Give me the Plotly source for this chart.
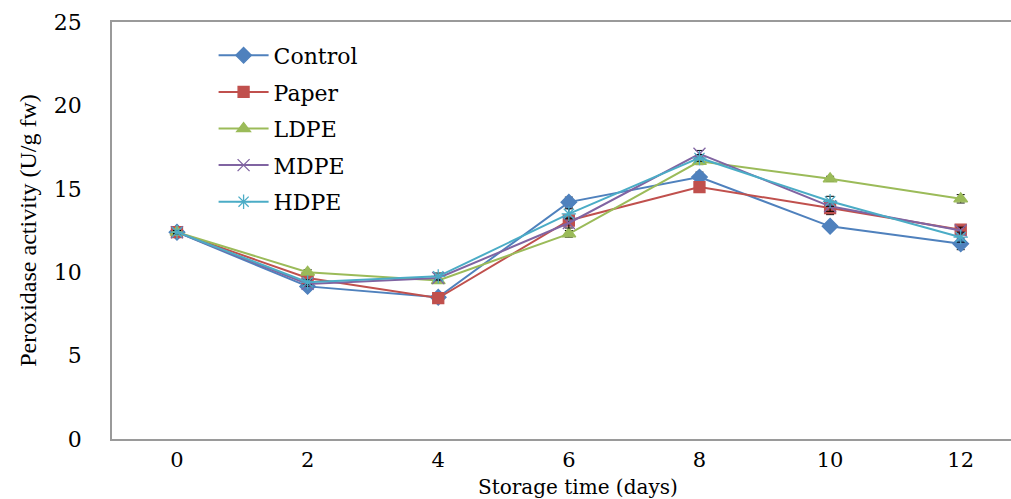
import plotly.graph_objects as go

days = [0, 2, 4, 6, 8, 10, 12]
series_names = ["Control", "Paper", "LDPE", "MDPE", "HDPE"]
control = [12.4, 9.15, 8.5, 14.2, 15.7, 12.75, 11.7]
paper = [12.4, 9.65, 8.45, 13.1, 15.1, 13.85, 12.55]
ldpe = [12.4, 10.0, 9.5, 12.3, 16.65, 15.6, 14.4]
mdpe = [12.4, 9.3, 9.65, 12.95, 17.1, 13.95, 12.5]
hdpe = [12.4, 9.4, 9.75, 13.5, 16.85, 14.25, 12.1]
control_err = [0.1, 0.15, 0.15, 0.3, 0.3, 0.2, 0.35]
paper_err = [0.1, 0.2, 0.1, 0.3, 0.2, 0.4, 0.2]
ldpe_err = [0.1, 0.15, 0.1, 0.2, 0.2, 0.15, 0.25]
mdpe_err = [0.1, 0.15, 0.15, 0.3, 0.2, 0.3, 0.2]
hdpe_err = [0.1, 0.15, 0.2, 0.3, 0.2, 0.3, 0.3]
x_ticks = [0, 2, 4, 6, 8, 10, 12]
y_ticks = [0, 5, 10, 15, 20, 25]

values = [control, paper, ldpe, mdpe, hdpe]
errors = [control_err, paper_err, ldpe_err, mdpe_err, hdpe_err]
colors = ["#4F81BD", "#C0504D", "#9BBB59", "#8064A2", "#4BACC6"]
symbols = ["diamond", "square", "triangle-up", "x-thin-open", "asterisk-open"]
sizes = [12, 11, 12, 12, 12]

WIDE = "DejaVu Serif, Liberation Serif, serif"
TIMES = "Liberation Serif, DejaVu Serif, serif"
fig = go.Figure()
for name, v, e, c, s, sz in zip(series_names, values, errors, colors, symbols, sizes):
    fig.add_trace(go.Scatter(
        x=days, y=v, name=name, mode="lines+markers", legendgroup=name,
        line=dict(color=c, width=2),
        marker=dict(symbol=s, size=sz, color=c, line=dict(color=c, width=1.3)),
        error_y=dict(type="data", array=e, visible=True, color="black", thickness=1, width=4),
    ))

fig.add_annotation(text="Storage time (days)", xref="paper", yref="paper",
                   x=0.518, y=0, yshift=-48, xanchor="center", yanchor="middle",
                   showarrow=False, font=dict(family=WIDE, size=20, color="black"))

fig.update_layout(
    width=1011, height=499,
    margin=dict(l=112, r=0, t=22, b=60),
    paper_bgcolor="white", plot_bgcolor="white",
    font=dict(family=WIDE, size=22, color="black"),
    showlegend=True,
    legend=dict(x=0.113, y=0.97, xanchor="left", yanchor="top",
                bgcolor="rgba(0,0,0,0)", font=dict(family=WIDE, size=22),
                tracegroupgap=5, itemwidth=50),
    xaxis=dict(range=[-0.995, 12.77], tickmode="array", tickvals=x_ticks,
               ticktext=[str(t) for t in x_ticks],
               showgrid=False, zeroline=False, showline=True, linecolor="#9a9a9a",
               linewidth=1.5, mirror=True, ticks="", ticklabelstandoff=1,
               tickfont=dict(family=WIDE, size=21)),
    yaxis=dict(range=[0, 25], tickmode="array", tickvals=y_ticks,
               showgrid=False, zeroline=False, showline=True, linecolor="#9a9a9a",
               linewidth=1.5, ticks="", ticklabelstandoff=24,
               tickfont=dict(family=WIDE, size=22),
               title=dict(text="Peroxidase activity (U/g fw)", standoff=10,
                          font=dict(family=TIMES, size=24))),
)

fig.write_html("out.html")
